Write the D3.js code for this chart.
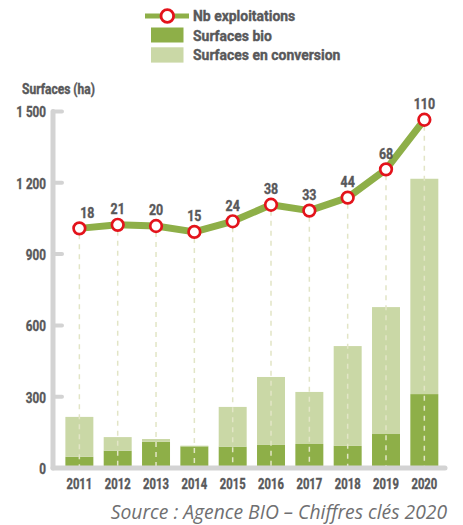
<!DOCTYPE html>
<html><head><meta charset="utf-8">
<script src="https://cdn.jsdelivr.net/npm/d3@7"></script>
<style>
html,body{margin:0;padding:0;background:#fff;}
svg{display:block;}
.cond{font-family:"Roboto",sans-serif;font-weight:bold;fill:#58585a;stroke:#58585a;stroke-width:0.4px;}
</style></head>
<body>
<svg id="chart" width="463" height="525"></svg>
<script>
const years = ["2011","2012","2013","2014","2015","2016","2017","2018","2019","2020"];
const surfacesBio = [47, 73, 110, 91, 90, 97, 101, 93, 143, 311];
const surfacesConversion = [168, 57, 12, 3, 167, 286, 219, 420, 534, 906];
const nbExploitations = [18, 21, 20, 15, 24, 38, 33, 44, 68, 110];
const yTicks = [0, 300, 600, 900, 1200, 1500];
const legendLabels = ["Nb exploitations", "Surfaces bio", "Surfaces en conversion"];

const colBio = "#8eaf48", colConv = "#cad8a6", colLine = "#8eaf48", colRed = "#e3131b", colAxis = "#d3d3d3";

const svg = d3.select("#chart");
const x = d3.scaleBand().domain(years).range([60.2, 443.5]).paddingInner(0.27).paddingOuter(0.135);
const y = d3.scaleLinear().domain([0, 1500]).range([468, 111.5]);
const y2 = d3.scaleLinear().domain([-185, 117]).range([468, 111.5]);
const fmt = d3.formatLocale({decimal: ",", thousands: " ", grouping: [3], currency: ["", " €"]}).format(",d");

// horizontally condense text (no condensed font available)
function condense(sel, f) {
  sel.each(function() {
    const t = d3.select(this);
    const xv = +(t.attr("x") || 0);
    t.attr("x", xv / f).attr("transform", `scale(${f},1)`);
  });
}

// bars
const stackData = years.map((yr, i) => ({year: yr, bio: surfacesBio[i], conv: surfacesConversion[i]}));
const stacked = d3.stack().keys(["bio", "conv"])(stackData);
const colors = {bio: colBio, conv: colConv};
svg.append("g").selectAll("g").data(stacked).join("g")
  .attr("fill", d => colors[d.key])
  .selectAll("rect").data(d => d).join("rect")
  .attr("x", d => x(d.data.year))
  .attr("width", x.bandwidth())
  .attr("y", d => y(d[1]))
  .attr("height", d => y(d[0]) - y(d[1]));

// dashed drop lines
svg.append("g").selectAll("line").data(years).join("line")
  .attr("x1", d => x(d) + x.bandwidth() / 2)
  .attr("x2", d => x(d) + x.bandwidth() / 2)
  .attr("y1", (d, i) => y2(nbExploitations[i]) + 6)
  .attr("y2", y(0))
  .attr("stroke", "#e2e5c6").attr("stroke-width", 1.5).attr("stroke-dasharray", "5,5");

// axes lines
svg.append("line").attr("x1", 53).attr("x2", 53).attr("y1", y(1500)).attr("y2", y(0))
  .attr("stroke", colAxis).attr("stroke-width", 5).attr("stroke-linecap", "round");
svg.append("line").attr("x1", 53).attr("x2", 445).attr("y1", y(0)).attr("y2", y(0))
  .attr("stroke", colAxis).attr("stroke-width", 5).attr("stroke-linecap", "round");
svg.append("g").selectAll("line").data(yTicks.filter(t => t > 0)).join("line")
  .attr("x1", 53).attr("x2", 62).attr("y1", d => y(d)).attr("y2", d => y(d))
  .attr("stroke", colAxis).attr("stroke-width", 4).attr("stroke-linecap", "round");

// y axis labels
const yAxis = svg.append("g").attr("transform", "translate(53,0)")
  .call(d3.axisLeft(y).tickValues(yTicks).tickFormat(fmt).tickSize(0).tickPadding(7));
yAxis.select(".domain").remove();
yAxis.selectAll("text").attr("class", "cond").style("font-size", "15px").attr("dy", "0.36em").call(condense, 0.78);

// x axis labels
const xAxis = svg.append("g").attr("transform", `translate(0,${y(0)})`)
  .call(d3.axisBottom(x).tickSize(0).tickPadding(10));
xAxis.select(".domain").remove();
xAxis.selectAll("text").attr("class", "cond").style("font-size", "15px").call(condense, 0.75);

// axis title
svg.append("text").attr("class", "cond").attr("x", 22).attr("y", 94)
  .style("font-size", "14px").text("Surfaces (ha)").call(condense, 0.86);

// line
const line = d3.line().x((d, i) => x(years[i]) + x.bandwidth() / 2).y(d => y2(d));
svg.append("path").datum(nbExploitations).attr("d", line)
  .attr("fill", "none").attr("stroke", colLine).attr("stroke-width", 7).attr("stroke-linejoin", "round");
svg.append("g").selectAll("circle").data(nbExploitations).join("circle")
  .attr("cx", (d, i) => x(years[i]) + x.bandwidth() / 2)
  .attr("cy", d => y2(d)).attr("r", 5.8)
  .attr("fill", "#fff").attr("stroke", colRed).attr("stroke-width", 2.7);
svg.append("g").selectAll("text").data(nbExploitations).join("text")
  .attr("class", "cond").style("font-size", "15.5px").attr("text-anchor", "middle")
  .attr("x", (d, i) => x(years[i]) + x.bandwidth() / 2 + (i === 0 ? 8 : 0))
  .attr("y", d => y2(d) - 10.5).text(d => d).call(condense, 0.8);

// legend
const lg = svg.append("g");
lg.append("line").attr("x1", 145).attr("x2", 189).attr("y1", 16).attr("y2", 16)
  .attr("stroke", colLine).attr("stroke-width", 5);
lg.append("circle").attr("cx", 167.3).attr("cy", 16).attr("r", 6.3)
  .attr("fill", "#fff").attr("stroke", colRed).attr("stroke-width", 2.8);
lg.append("rect").attr("x", 151).attr("y", 27.5).attr("width", 32.5).attr("height", 15).attr("fill", colBio);
lg.append("rect").attr("x", 151).attr("y", 47.3).attr("width", 32.5).attr("height", 15.3).attr("fill", colConv);
lg.selectAll("text").data(legendLabels).join("text")
  .attr("class", "cond").style("font-size", "15.5px")
  .attr("x", 193).attr("y", (d, i) => 21.5 + i * 19.3).text(d => d).call(condense, 0.9);

// source
svg.append("text").attr("x", 447).attr("y", 519).attr("text-anchor", "end")
  .style("font-family", "'Open Sans', sans-serif").style("font-style", "italic")
  .style("font-size", "19.3px").style("fill", "#6f6f71")
  .text("Source : Agence BIO – Chiffres clés 2020");
</script>
</body></html>
